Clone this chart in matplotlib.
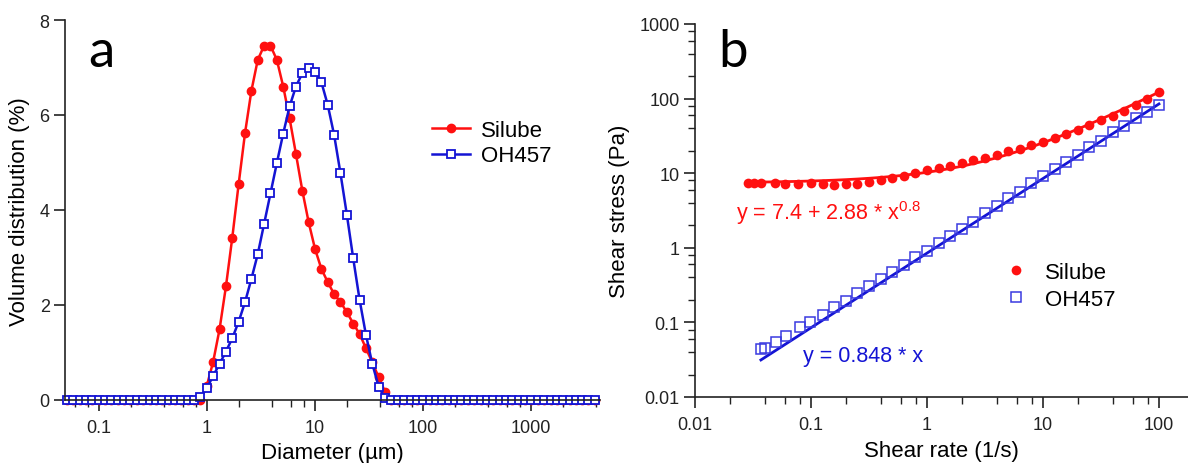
# Particle size distribution (a) and flow curves (b) for Silube and OH457
import numpy as np
import matplotlib.pyplot as plt
from matplotlib.ticker import FixedLocator, FixedFormatter, LogLocator, NullFormatter

plt.rcParams['font.family'] = ['Liberation Sans', 'DejaVu Sans']
plt.rcParams['mathtext.fontset'] = 'custom'
plt.rcParams['mathtext.rm'] = 'Liberation Sans'
plt.rcParams['mathtext.default'] = 'regular'

# ---- panel a: size classes (um) and volume distribution (%) ----
diameter = [0.051, 0.058, 0.067, 0.076, 0.087, 0.100, 0.115, 0.131, 0.150, 0.172,
            0.197, 0.226, 0.259, 0.296, 0.339, 0.389, 0.445, 0.510, 0.584, 0.669,
            0.766, 0.877, 1.005, 1.151, 1.318, 1.510, 1.729, 1.981, 2.269, 2.599,
            2.976, 3.409, 3.905, 4.472, 5.122, 5.867, 6.720, 7.697, 8.816, 10.097,
            11.565, 13.246, 15.172, 17.377, 19.904, 22.797, 26.111, 29.907, 34.255, 39.234,
            44.938, 51.471, 58.953, 67.523, 77.339, 88.583, 101.46, 116.21, 133.10, 152.45,
            174.62, 200.00, 229.08, 262.38, 300.52, 344.21, 394.24, 451.56, 517.20, 592.39,
            678.50, 777.14, 890.12, 1019.5, 1167.7, 1337.5, 1531.9, 1754.6, 2009.7, 2301.8,
            2636.5, 3000.0, 3437.0, 3936.0]

silube_vol = ([0.0] * 22 +
              [0.30, 0.81, 1.49, 2.39, 3.42, 4.55, 5.62, 6.51, 7.16, 7.46,
               7.46, 7.16, 6.60, 5.93, 5.18, 4.41, 3.74, 3.18, 2.76, 2.48,
               2.23, 2.06, 1.85, 1.61, 1.39, 1.09, 0.79, 0.48, 0.17] +
              [0.0] * 33)

oh457_vol = ([0.0] * 21 +
             [0.06, 0.25, 0.51, 0.76, 1.02, 1.30, 1.65, 2.06, 2.55, 3.07,
              3.71, 4.35, 4.99, 5.61, 6.18, 6.60, 6.88, 7.00, 6.91, 6.69,
              6.21, 5.58, 4.77, 3.90, 2.98, 2.11, 1.37, 0.76, 0.28, 0.04] +
             [0.0] * 33)

# ---- panel b: shear rate (1/s) and shear stress (Pa) ----
silube_rate = [0.0285, 0.0325, 0.037, 0.049, 0.060, 0.077, 0.100, 0.126, 0.158, 0.200,
               0.251, 0.316, 0.398, 0.501, 0.631, 0.794, 1.00, 1.26, 1.58, 2.00,
               2.51, 3.16, 3.98, 5.01, 6.31, 7.94, 10.0, 12.6, 15.8, 20.0,
               25.1, 31.6, 39.8, 50.1, 63.1, 79.4, 100.0]
silube_stress = [7.3, 7.3, 7.3, 7.3, 7.25, 7.25, 7.3, 7.2, 6.9, 7.2,
                 7.2, 7.6, 8.0, 8.6, 9.3, 10.0, 10.9, 11.7, 12.6, 13.6,
                 14.8, 16.2, 17.6, 19.6, 21.3, 24.0, 26.5, 29.5, 33.5, 38.0,
                 44.0, 51.0, 59.0, 69.0, 82.0, 98.0, 122.0]

oh457_rate = [0.037, 0.040, 0.050, 0.061, 0.081, 0.098, 0.126, 0.158, 0.200, 0.251,
              0.316, 0.398, 0.501, 0.631, 0.794, 1.00, 1.26, 1.58, 2.00, 2.51,
              3.16, 3.98, 5.01, 6.31, 7.94, 10.0, 12.6, 15.8, 20.0, 25.1,
              31.6, 39.8, 50.1, 63.1, 79.4, 100.0]
oh457_stress = [0.044, 0.045, 0.055, 0.066, 0.086, 0.100, 0.126, 0.159, 0.195, 0.245,
                0.305, 0.382, 0.479, 0.593, 0.746, 0.914, 1.15, 1.45, 1.79, 2.24,
                2.93, 3.66, 4.60, 5.65, 7.31, 9.26, 11.4, 14.3, 17.5, 22.2,
                27.3, 35.3, 43.3, 54.4, 66.7, 82.0]

# fitted models shown on the chart
hb_tau0, hb_k, hb_n = 7.4, 2.88, 0.8
newton_mu = 0.848

RED = '#ff1010'
BLUE = '#1414d4'
INK = '#222222'
W, H = 1188, 464

fig = plt.figure(figsize=(W / 100, H / 100), dpi=100)


def px_axes(l, r, b, t):
    return fig.add_axes([l / W, 1 - b / H, (r - l) / W, (b - t) / H])


def style_axes(ax):
    for s in ('top', 'right'):
        ax.spines[s].set_visible(False)
    for s in ('left', 'bottom'):
        ax.spines[s].set_color(INK)
        ax.spines[s].set_linewidth(1.2)
    ax.tick_params(which='major', direction='out', length=8, width=1.2,
                   colors=INK, labelsize=13, pad=3)
    ax.tick_params(which='minor', direction='out', length=5, width=1.0, colors=INK)
    ax.tick_params(axis='x', which='major', pad=6)


# ---------------- panel a ----------------
ax1 = px_axes(65, 600, 401, 21)
ax1.set_xscale('log')
ax1.plot(diameter, silube_vol, '-o', color=RED, lw=1.8, ms=6, label='Silube', clip_on=False)
ax1.plot(diameter, oh457_vol, '-s', color=BLUE, lw=1.8, ms=6, mfc='white', mec=BLUE,
         mew=1.3, label='OH457', clip_on=False)
ax1.set_xlim(0.0488, 4400)
ax1.set_ylim(0, 8)
ax1.xaxis.set_major_locator(FixedLocator([0.1, 1, 10, 100, 1000]))
ax1.xaxis.set_major_formatter(FixedFormatter(['0.1', '1', '10', '100', '1000']))
ax1.xaxis.set_minor_locator(LogLocator(base=10, subs=(2, 4, 6, 8)))
ax1.xaxis.set_minor_formatter(NullFormatter())
ax1.set_yticks([0, 2, 4, 6, 8])
style_axes(ax1)
ax1.legend(loc='upper left', bbox_to_anchor=(432 / W, 1 - 121 / H),
           bbox_transform=fig.transFigure, frameon=False, fontsize=16,
           handlelength=1.7, handletextpad=0.5, labelspacing=0.2, borderpad=0,
           borderaxespad=0)
ax1.set_xlabel('Diameter (µm)', fontsize=16, labelpad=4)
fig.text(20 / W, 1 - 212 / H, 'Volume distribution (%)', rotation=90,
         ha='center', va='center', fontsize=16)
fig.text(88 / W, 1 - 67 / H, 'a', fontsize=38, family=['Lato', 'DejaVu Sans'],
         ha='left', va='baseline')

# ---------------- panel b ----------------
ax2 = px_axes(695, 1188, 398, 25)
ax2.set_xscale('log')
ax2.set_yscale('log')
ax2.plot(silube_rate, [hb_tau0 + hb_k * r ** hb_n for r in silube_rate],
         '-', color=RED, lw=2)
ax2.plot([oh457_rate[0], oh457_rate[-1]],
         [newton_mu * oh457_rate[0], newton_mu * oh457_rate[-1]], '-', color=BLUE, lw=2)
ax2.plot(silube_rate, silube_stress, 'o', color=RED, ms=7, mec='none', label='Silube')
ax2.plot(oh457_rate, oh457_stress, 's', ms=6.5, mfc='none', mec='#3a3ae0', mew=1.1,
         label='OH457')
ax2.set_xlim(0.01, 178)
ax2.set_ylim(0.01, 1000)
ax2.xaxis.set_major_locator(FixedLocator([0.01, 0.1, 1, 10, 100]))
ax2.xaxis.set_major_formatter(FixedFormatter(['0.01', '0.1', '1', '10', '100']))
ax2.yaxis.set_major_locator(FixedLocator([0.01, 0.1, 1, 10, 100, 1000]))
ax2.yaxis.set_major_formatter(FixedFormatter(['0.01', '0.1', '1', '10', '100', '1000']))
for axis in (ax2.xaxis, ax2.yaxis):
    axis.set_minor_locator(LogLocator(base=10, subs=(2, 4, 6, 8)))
    axis.set_minor_formatter(NullFormatter())
style_axes(ax2)
ax2.legend(loc='upper left', bbox_to_anchor=(1005 / W, 1 - 263 / H),
           bbox_transform=fig.transFigure, frameon=False, fontsize=16,
           handlelength=1.0, handletextpad=0.8, labelspacing=0.25, borderpad=0,
           borderaxespad=0)
ax2.set_xlabel('Shear rate (1/s)', fontsize=16, labelpad=5)
fig.text(620 / W, 1 - 211 / H, 'Shear stress (Pa)', rotation=90,
         ha='center', va='center', fontsize=16)
fig.text(736 / W, 1 - 213 / H, 'y = 7.4 + 2.88 * x$^{0.8}$', color=RED, fontsize=15.5,
         ha='left', va='center')
fig.text(803 / W, 1 - 357 / H, 'y = 0.848 * x', color=BLUE, fontsize=15.5,
         ha='left', va='center')
fig.text(718 / W, 1 - 67 / H, 'b', fontsize=38, family=['Lato', 'DejaVu Sans'],
         ha='left', va='baseline')

fig.savefig('out.png', dpi=100)
